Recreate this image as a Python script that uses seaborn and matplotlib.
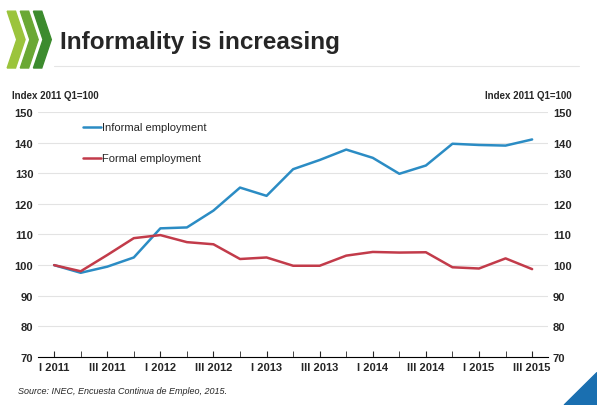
import matplotlib
matplotlib.use("Agg")
import matplotlib.pyplot as plt
import seaborn as sns
import pandas as pd
from matplotlib.patches import Polygon

quarters = ["I 2011","II 2011","III 2011","IV 2011","I 2012","II 2012","III 2012","IV 2012",
            "I 2013","II 2013","III 2013","IV 2013","I 2014","II 2014","III 2014","IV 2014",
            "I 2015","II 2015","III 2015"]
informal = [100,97.5,99.5,102.5,112,112.3,117.8,125.3,122.6,131.3,134.3,137.7,135,129.8,132.5,139.6,139.2,139,141]
formal = [100,98,103.3,108.8,109.8,107.5,106.8,102,102.5,99.8,99.8,103.1,104.3,104.1,104.2,99.3,98.9,102.2,98.7]

sns.set_style("white")
plt.rcParams['font.family'] = ['Liberation Sans', 'DejaVu Sans']

df = pd.DataFrame({"x": list(range(len(quarters)))*2,
                   "v": informal+formal,
                   "s": ["Informal employment"]*len(quarters)+["Formal employment"]*len(quarters)})

fig = plt.figure(figsize=(5.97,4.06), dpi=100)
ax = fig.add_axes([0.064,0.118,0.854,0.604])
sns.lineplot(data=df, x="x", y="v", hue="s", palette=["#2b8cc4","#c23b4a"], linewidth=1.8, ax=ax, legend=False)
ax.set_ylim(70,150)
ax.set_xlim(-0.6,18.6)
ax.set_yticks(range(70,151,10))
ax.set_xticks(range(0,19,2))
ax.set_xticklabels([quarters[i] for i in range(0,19,2)], fontsize=8, fontweight='bold')
ax.set_xticks(range(19), minor=True)
ax.tick_params(axis='x', which='both', direction='in', length=4, bottom=True)
ax.tick_params(axis='y', labelsize=8, length=0)
for l in ax.get_yticklabels(): l.set_fontweight('bold')
ax.grid(axis='y', color='#e3e3e3', linewidth=0.8)
ax.set_xlabel(""); ax.set_ylabel("")
for s in ["top","right","left"]: ax.spines[s].set_visible(False)
ax.spines["bottom"].set_color("black")
ax2 = ax.twinx()
ax2.set_ylim(70,150); ax2.set_yticks(range(70,151,10))
ax2.tick_params(axis='y', labelsize=8, length=0)
for l in ax2.get_yticklabels(): l.set_fontweight('bold')
for s in ["top","right","left","bottom"]: ax2.spines[s].set_visible(False)

ax.plot([1.1,1.75],[145,145], color="#2b8cc4", lw=1.8)
ax.text(1.8,145,"Informal employment", fontsize=8, va='center')
ax.plot([1.1,1.75],[135,135], color="#c23b4a", lw=1.8)
ax.text(1.8,135,"Formal employment", fontsize=8, va='center')

fig.text(0.02,0.757,"Index 2011 Q1=100", fontsize=7, fontweight='bold')
fig.text(0.958,0.757,"Index 2011 Q1=100", fontsize=7, fontweight='bold', ha='right')
fig.text(0.1,0.895,"Informality is increasing", fontsize=17.5, fontweight='bold', va='center')
fig.text(0.03,0.03,"Source: INEC, Encuesta Continua de Empleo, 2015.", fontsize=6.5, style='italic')
fig.add_artist(plt.Line2D([0.09,0.97],[0.835,0.835], color='#e5e5e5', lw=0.8))

greens = ["#9bc43c","#6aa834","#3c8b2e"]
for i,c in enumerate(greens):
    x0 = 0.012 + i*0.022
    fig.add_artist(Polygon([[x0,0.97],[x0+0.014,0.97],[x0+0.03,0.9],[x0+0.014,0.83],[x0,0.83],[x0+0.016,0.9]],
                           closed=True, color=c, transform=fig.transFigure))
fig.add_artist(Polygon([[1,0.0],[1,0.08],[0.945,0.0]], closed=True, color="#1a6fb0", transform=fig.transFigure))
fig.savefig("out.png", dpi=100)
